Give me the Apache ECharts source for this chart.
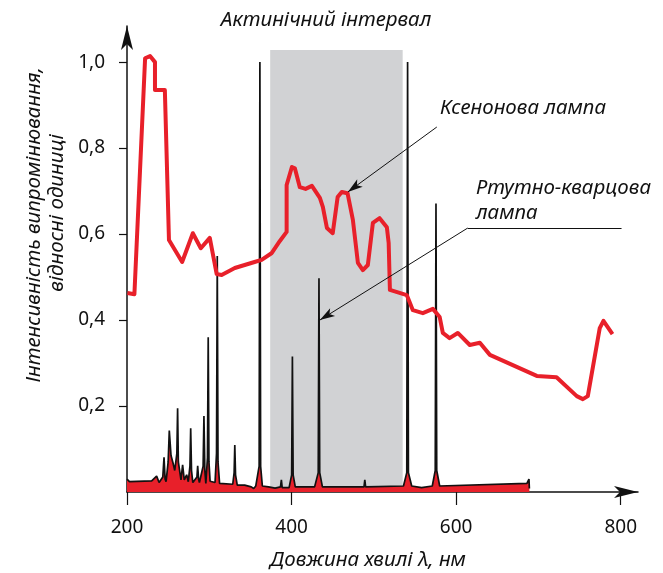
<!DOCTYPE html>
<html>
<head>
<meta charset="utf-8">
<script src="https://cdn.jsdelivr.net/npm/echarts@6/dist/echarts.min.js"></script>
<style>
  html, body { margin: 0; padding: 0; background: #fff; }
  #chart { width: 663px; height: 573px; }
</style>
</head>
<body>
<div id="chart"></div>
<script>
// ксенонова лампа: [довжина хвилі, нм; інтенсивність]
const xenonLamp = [
  [200.5, 0.463], [209, 0.46], [222, 1.009], [228, 1.014], [234, 1.0], [234, 0.935],
  [246, 0.935], [251, 0.586], [267, 0.535], [280, 0.602], [289.7, 0.567], [300.6, 0.591],
  [309, 0.507], [315, 0.505], [331, 0.521], [355, 0.535], [363.6, 0.54], [376, 0.556],
  [385.8, 0.584], [394, 0.605], [394, 0.714], [400.4, 0.756], [404, 0.753], [410, 0.709],
  [417, 0.705], [424.7, 0.712], [434.4, 0.684], [438, 0.663], [443, 0.614], [450, 0.602],
  [456, 0.686], [461, 0.698], [468, 0.695], [474.5, 0.633], [480.6, 0.533], [486.6, 0.516],
  [492.7, 0.528], [498.8, 0.626], [507, 0.637], [515.8, 0.616], [518, 0.579], [519.5, 0.47],
  [540, 0.458], [547.4, 0.423], [559.5, 0.416], [571.7, 0.426], [580, 0.407], [583.8, 0.37],
  [592, 0.358], [602, 0.37], [616.6, 0.342], [628.8, 0.347], [641, 0.319], [698, 0.27],
  [722, 0.267], [746.6, 0.223], [754, 0.216], [760, 0.223], [774.5, 0.381], [779, 0.398],
  [790, 0.367]
];

// ртутно-кварцова лампа
const mercuryLamp = [
  [200, 0.03], [203, 0.024], [230, 0.026], [236, 0.037], [239, 0.022],
  [243.5, 0.035], [245, 0.081], [246.3, 0.03], [247.5, 0.024],
  [250, 0.07], [251.4, 0.143], [253.5, 0.085], [256, 0.067], [258, 0.05],
  [260.6, 0.09], [261.5, 0.195], [262.4, 0.07], [265.6, 0.028],
  [267.6, 0.063], [269.6, 0.028], [272.5, 0.04], [274.5, 0.024],
  [276.5, 0.06], [277.4, 0.148], [278.4, 0.05], [280, 0.022],
  [285, 0.035], [285.9, 0.061], [287, 0.03], [288, 0.022],
  [292.5, 0.06], [293.5, 0.177], [294.6, 0.05], [295.8, 0.02],
  [297.8, 0.08], [298.7, 0.36], [299.6, 0.07], [301, 0.025],
  [307, 0.022], [308.8, 0.09], [309.7, 0.549], [310.6, 0.07], [312.5, 0.02],
  [328.5, 0.018], [330.2, 0.045], [331, 0.109], [331.9, 0.04], [334, 0.016],
  [343, 0.016], [351, 0.012], [354, 0.008], [356.5, 0.014], [358.5, 0.01],
  [360.6, 0.06], [361.5, 1.0], [362.4, 0.06], [364.5, 0.014],
  [372, 0.012], [380, 0.009], [386.5, 0.012], [387.6, 0.028], [388.6, 0.01],
  [397, 0.01], [400.1, 0.04], [401, 0.315], [401.9, 0.04], [404.5, 0.012],
  [428, 0.012], [432.4, 0.045], [433.3, 0.497], [434.2, 0.045], [437.5, 0.012],
  [488, 0.012], [489, 0.028], [490, 0.012],
  [536, 0.014], [540, 0.045], [541, 1.0], [542, 0.045], [546, 0.014],
  [558, 0.01], [571, 0.014], [574.6, 0.05], [575.5, 0.671], [576.4, 0.05], [580, 0.014],
  [686, 0.02], [688.5, 0.03], [689, 0.008]
];

const xTicks = [200, 400, 600, 800];
const yTicks = [0.2, 0.4, 0.6, 0.8, 1.0];
const actinicRange = [374, 535];

const xenonPointer = [[823, 0.849], [576.5, 0.849], [468.4, 0.698]];
const mercuryPointer = [[801, 0.614], [614, 0.614], [434.4, 0.4]];

const font = "'Noto Sans', sans-serif";
const textStyle = { fontSize: 20.5, fontStyle: "italic", fontFamily: font, fill: "#111", textVerticalAlign: "middle" };

function pointer(pts) {
  return [
    [{ coord: pts[0], symbol: "none" }, { coord: pts[1], symbol: "none" }],
    [{ coord: pts[1], symbol: "none" }, { coord: pts[2], symbol: "arrow" }],
  ];
}

function label(text, x, y, align, rotation) {
  return {
    type: "text",
    x: x,
    y: y,
    rotation: rotation || 0,
    style: Object.assign({ text: text, textAlign: align }, textStyle),
  };
}

const chart = echarts.init(document.getElementById("chart"));
chart.setOption({
  animation: false,
  grid: { left: 127, right: 25, top: 26, bottom: 81 },
  xAxis: {
    type: "value",
    min: 200,
    max: 821,
    axisLine: {
      lineStyle: { color: "#111", width: 1.5 },
      symbol: ["none", "arrow"],
      symbolSize: [9, 24],
    },
    axisTick: { show: true, length: 13, customValues: xTicks, lineStyle: { color: "#111", width: 1.2 } },
    axisLabel: { customValues: xTicks, margin: 26, color: "#111", fontSize: 19, fontFamily: font },
    splitLine: { show: false },
  },
  yAxis: {
    type: "value",
    min: 0,
    max: 1.084,
    axisLine: {
      show: true,
      lineStyle: { color: "#111", width: 1.5 },
      symbol: ["none", "arrow"],
      symbolSize: [9, 24],
    },
    axisTick: { show: true, length: 8, customValues: yTicks, lineStyle: { color: "#111", width: 1.2 } },
    axisLabel: {
      customValues: yTicks,
      margin: 22,
      color: "#111",
      fontSize: 19,
      fontFamily: font,
      formatter: (v) => v.toFixed(1).replace(".", ","),
    },
    splitLine: { show: false },
  },
  series: [
    {
      name: "Ртутно-кварцова лампа",
      type: "line",
      data: mercuryLamp,
      symbol: "none",
      z: 2,
      lineStyle: { color: "#111", width: 1.7 },
      areaStyle: { color: "#e8202a", opacity: 1 },
      markArea: {
        silent: true,
        itemStyle: { color: "#d1d2d4" },
        data: [[{ xAxis: actinicRange[0], yAxis: 0 }, { xAxis: actinicRange[1], yAxis: 1.028 }]],
      },
    },
    {
      name: "Ксенонова лампа",
      type: "line",
      data: xenonLamp,
      symbol: "none",
      z: 3,
      lineStyle: { color: "#e8202a", width: 4, join: "round" },
      markLine: {
        silent: true,
        symbolSize: [7, 15],
        label: { show: false },
        lineStyle: { color: "#111", width: 1, type: "solid" },
        data: pointer(xenonPointer).concat(pointer(mercuryPointer)),
      },
    },
  ],
  graphic: [
    label("Актинічний інтервал", 326, 20, "center"),
    label("Ксенонова лампа", 440, 108, "left"),
    label("Ртутно-кварцова", 476, 188, "left"),
    label("лампа", 476, 213, "left"),
    label("Довжина хвилі λ, нм", 368, 560, "center"),
    label("Інтенсивність випромінювання,", 34, 225, "center", Math.PI / 2),
    label("відносні одиниці", 57, 213, "center", Math.PI / 2),
  ],
});
</script>
</body>
</html>
